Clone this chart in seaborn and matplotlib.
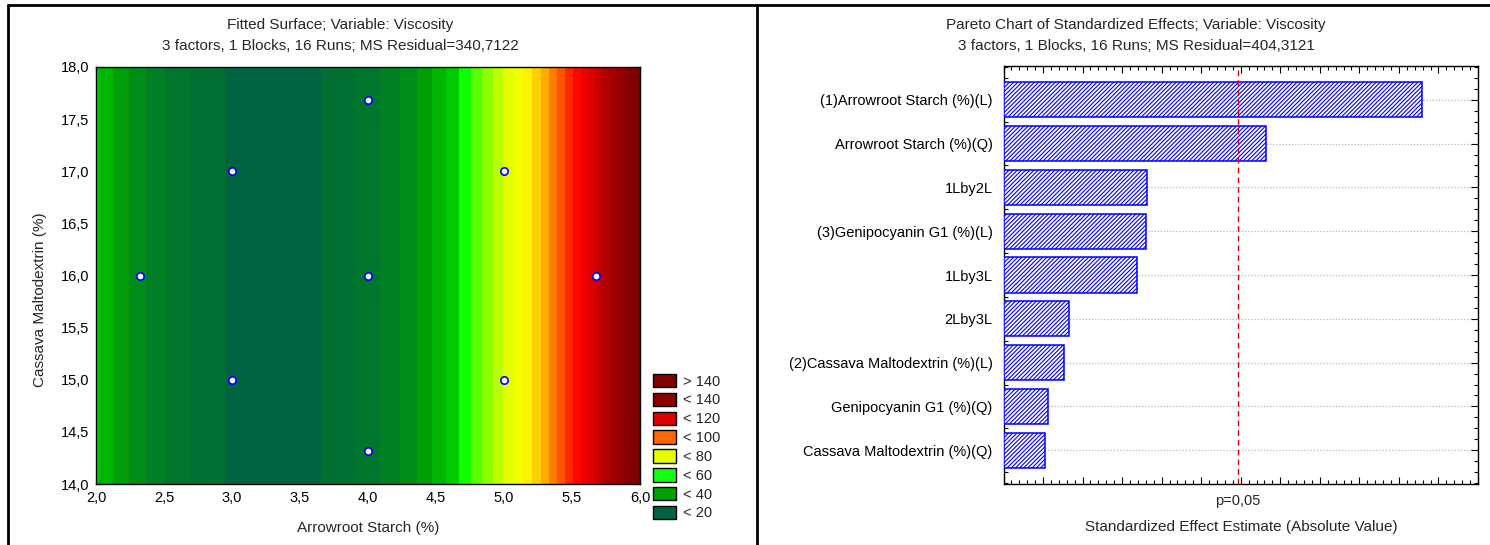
import numpy as np
import pandas as pd
import seaborn as sns
import matplotlib
matplotlib.use("Agg")
import matplotlib.pyplot as plt
from matplotlib.colors import LinearSegmentedColormap, Normalize
from matplotlib.patches import Patch
from matplotlib.lines import Line2D
from matplotlib.ticker import MultipleLocator, FuncFormatter

# fitted surface: viscosity = c0 + c1*x + c2*x^2 (x = arrowroot starch), maltodextrin terms ~ 0
arrowroot_coef = [227.8, -132.0, 20.0]
maltodextrin_coef = [0.0, 0.0, 0.0]

# design points of the experiment
design_arrowroot = [2.32, 3.0, 3.0, 4.0, 4.0, 4.0, 5.0, 5.0, 5.68]
design_maltodextrin = [16.0, 17.0, 15.0, 17.68, 16.0, 14.32, 17.0, 15.0, 16.0]

legend_labels = ['> 140', '< 140', '< 120', '< 100', '< 80', '< 60', '< 40', '< 20']
legend_colors = ['#800000', '#8b0000', '#dc0000', '#ff6600', '#e6ff00', '#14ff14', '#00a000', '#006440']

# pareto chart of standardized effects
effects = ['(1)Arrowroot Starch (%)(L)', 'Arrowroot Starch (%)(Q)', '1Lby2L',
           '(3)Genipocyanin G1 (%)(L)', '1Lby3L', '2Lby3L',
           '(2)Cassava Maltodextrin (%)(L)', 'Genipocyanin G1 (%)(Q)',
           'Cassava Maltodextrin (%)(Q)']
effect_values = [4.37, 2.74, 1.50, 1.49, 1.395, 0.683, 0.635, 0.464, 0.429]
t_crit = 2.447

sns.set_theme(style="white")
fonts = ['Liberation Sans Narrow', 'Liberation Sans', 'DejaVu Sans']
plt.rcParams['font.family'] = fonts
plt.rcParams['hatch.color'] = '#0000ff'
plt.rcParams['hatch.linewidth'] = 0.8

W, H = 1490, 545
fig = plt.figure(figsize=(W / 100, H / 100), dpi=100)
fig.patch.set_facecolor('white')

def box(x0, y0, x1, y1):
    return [x0 / W, 1 - y1 / H, (x1 - x0) / W, (y1 - y0) / H]

comma = FuncFormatter(lambda v, p: f"{v:.1f}".replace('.', ','))

# ---------------- left: fitted surface ----------------
ax1 = fig.add_axes(box(96, 67, 640, 484))
nodes = [(0, (0, 100, 66)), (12.5, (0, 100, 66)), (15, (0, 114, 48)), (20, (0, 118, 44)),
         (25, (0, 128, 36)), (30, (0, 140, 24)), (35, (0, 160, 8)), (40, (0, 180, 0)),
         (45, (0, 205, 0)), (49, (0, 255, 0)), (54, (80, 255, 0)), (68, (220, 255, 0)),
         (78, (255, 255, 0)), (88, (255, 190, 0)), (97, (255, 110, 0)), (105, (255, 40, 0)),
         (111, (255, 0, 0)), (120, (220, 0, 0)), (132, (170, 0, 0)), (150, (128, 0, 0)),
         (170, (128, 0, 0))]
vmax = 170.0
cmap = LinearSegmentedColormap.from_list(
    'stat', [(v / vmax, tuple(c / 255 for c in col)) for v, col in nodes])

gx = np.linspace(2.0, 6.0, 600)
gy = np.linspace(14.0, 18.0, 60)
GX, GY = np.meshgrid(gx, gy)
Z = np.polynomial.polynomial.polyval(GX, arrowroot_coef) + \
    np.polynomial.polynomial.polyval(GY, maltodextrin_coef)
ax1.contourf(GX, GY, Z, levels=np.arange(-2.5, 175, 5), cmap=cmap,
             norm=Normalize(0, vmax), antialiased=False)

sns.scatterplot(x=design_arrowroot, y=design_maltodextrin, ax=ax1, s=28,
                color='white', edgecolor='#0000ff', linewidth=1.2, zorder=5, legend=False)

ax1.set_xlim(2.0, 6.0)
ax1.set_ylim(14.0, 18.0)
ax1.xaxis.set_major_locator(MultipleLocator(0.5))
ax1.yaxis.set_major_locator(MultipleLocator(0.5))
ax1.xaxis.set_major_formatter(comma)
ax1.yaxis.set_major_formatter(comma)
ax1.tick_params(direction='in', length=4, width=0.8, top=True, right=True,
                labelsize=10.5, colors='black', pad=5)
for s in ax1.spines.values():
    s.set_color('black')
    s.set_linewidth(1)
ax1.set_xlabel('')
ax1.set_ylabel('')

fig.text(368 / W, 1 - 528 / H, 'Arrowroot Starch (%)', ha='center', va='center', fontsize=11)
fig.text(40 / W, 1 - 300 / H, 'Cassava Maltodextrin (%)', ha='center', va='center',
         rotation=90, fontsize=11)
fig.text(340 / W, 1 - 25 / H, 'Fitted Surface; Variable: Viscosity', ha='center',
         va='center', fontsize=11)
fig.text(340 / W, 1 - 46 / H, '3 factors, 1 Blocks, 16 Runs; MS Residual=340,7122',
         ha='center', va='center', fontsize=11)

handles = [Patch(facecolor=c, edgecolor='black', linewidth=1) for c in legend_colors]
fig.legend(handles, legend_labels, loc='upper left', bbox_to_anchor=(650 / W, 1 - 371 / H),
           frameon=False, fontsize=10.5, handlelength=1.6, handleheight=1.05,
           labelspacing=0.28, handletextpad=0.45, borderaxespad=0, borderpad=0.2)

# ---------------- right: pareto chart ----------------
ax2 = fig.add_axes(box(1003.5, 66, 1478, 484))
df = pd.DataFrame({'effect': effects, 'value': effect_values})
sns.barplot(data=df, x='value', y='effect', orient='h', ax=ax2, color='white',
            saturation=1, edgecolor='#0000ff', linewidth=1.1, width=0.8, zorder=3)
for p in ax2.patches:
    p.set_hatch('////////')

ax2.set_xlim(0, 4.96)
ax2.set_ylim(8.77, -0.77)
ax2.axvline(t_crit, color='#e00000', linestyle=(0, (4, 3)), linewidth=1, zorder=4)
ax2.grid(axis='y', linestyle=(0, (1, 1.5)), color='#b8b8b8', linewidth=0.9)
ax2.grid(axis='x', visible=False)
ax2.set_axisbelow(True)

ax2.xaxis.set_major_locator(MultipleLocator(4.96 / 12))
ax2.xaxis.set_minor_locator(MultipleLocator(4.96 / 60))
ax2.xaxis.set_major_formatter(FuncFormatter(lambda v, p: ''))
ax2.yaxis.set_minor_locator(MultipleLocator(0.25))
ax2.tick_params(axis='x', which='major', direction='in', length=5, width=0.8,
                top=True, bottom=True, colors='black')
ax2.tick_params(axis='x', which='minor', direction='in', length=3, width=0.8,
                top=True, bottom=True, colors='black')
ax2.tick_params(axis='y', which='major', direction='in', length=5, width=0.8,
                left=True, right=True, labelsize=10.5, pad=8, colors='black')
ax2.tick_params(axis='y', which='minor', direction='in', length=3, width=0.8,
                left=True, right=True, colors='black')
for s in ax2.spines.values():
    s.set_color('black')
    s.set_linewidth(1)
ax2.set_xlabel('')
ax2.set_ylabel('')

ax2.text(t_crit, -0.025, 'p=0,05', transform=ax2.get_xaxis_transform(),
         ha='center', va='top', fontsize=10.5)
fig.text(1241 / W, 1 - 527 / H, 'Standardized Effect Estimate (Absolute Value)',
         ha='center', va='center', fontsize=11)
fig.text(1136 / W, 1 - 25 / H, 'Pareto Chart of Standardized Effects; Variable: Viscosity',
         ha='center', va='center', fontsize=11)
fig.text(1136 / W, 1 - 46 / H, '3 factors, 1 Blocks, 16 Runs; MS Residual=404,3121',
         ha='center', va='center', fontsize=11)

# panel frames
for xs, ys in [([8, 8], [5, 545]), ([757, 757], [5, 545]), ([8, 1490], [5, 5])]:
    fig.add_artist(Line2D([x / W for x in xs], [1 - y / H for y in ys],
                          transform=fig.transFigure, color='black', linewidth=2))

fig.savefig('out.png', dpi=100, facecolor='white')
